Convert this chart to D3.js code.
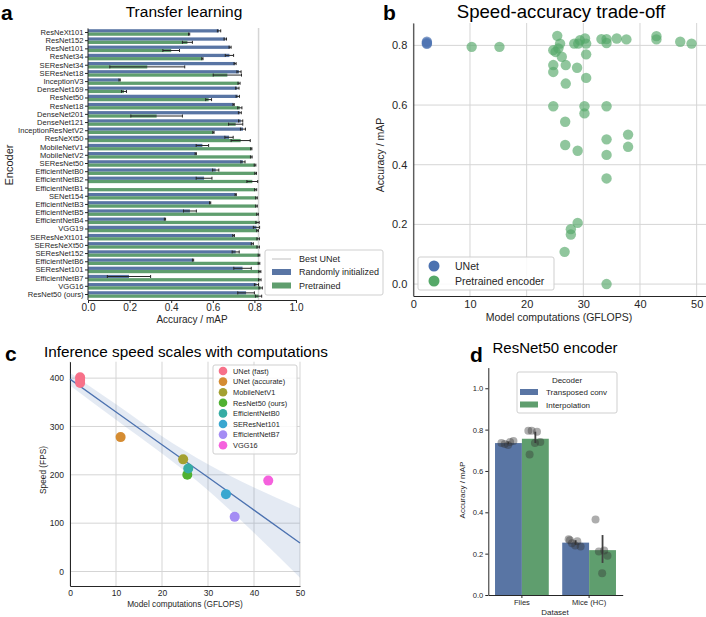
<!DOCTYPE html>
<html>
<head>
<meta charset="utf-8">
<script src="https://cdn.jsdelivr.net/npm/d3@7"></script>
<style>
  body { margin: 0; background: #fff; }
  text { font-family: "Liberation Sans", Arial, sans-serif; fill: #262626; }
</style>
</head>
<body>
<div class="chart"></div>
<script>
// ---------- data ----------
// a: transfer learning
var encoders = ['ResNeXt101', 'ResNet152', 'ResNet101', 'ResNet34', 'SEResNet34', 'SEResNet18',
  'InceptionV3', 'DenseNet169', 'ResNet50', 'ResNet18', 'DenseNet201', 'DenseNet121',
  'InceptionResNetV2', 'ResNeXt50', 'MobileNetV1', 'MobileNetV2', 'SEResNet50', 'EfficientNetB0',
  'EfficientNetB2', 'EfficientNetB1', 'SENet154', 'EfficientNetB3', 'EfficientNetB5', 'EfficientNetB4',
  'VGG19', 'SEResNeXt101', 'SEResNeXt50', 'SEResNet152', 'EfficientNetB6', 'SEResNet101',
  'EfficientNetB7', 'VGG16', 'ResNet50 (ours)'];
var randomAcc = [0.63, 0.66, 0.683, 0.68, 0.707, 0.726, 0.152, 0.718, 0.72, 0.70, 0.73, 0.734,
  0.745, 0.678, 0.55, 0.518, 0.745, 0.614, 0.558, 0.0, 0.71, 0.587, 0.49, 0.37,
  0.81, 0.70, 0.79, 0.71, 0.505, 0.743, 0.197, 0.81, 0.76];
var randomErr = [0.008, 0.006, 0.005, 0.02, 0.005, 0.01, 0.003, 0.008, 0.008, 0.003, 0.007, 0.01,
  0.012, 0.02, 0.03, 0.003, 0.01, 0.015, 0.038, 0.0, 0.003, 0.003, 0.031, 0.003,
  0.015, 0.004, 0.005, 0.017, 0.003, 0.042, 0.104, 0.01, 0.04];
var pretrainedAcc = [0.486, 0.478, 0.40, 0.55, 0.285, 0.67, 0.726, 0.173, 0.58, 0.73, 0.33, 0.71,
  0.603, 0.734, 0.785, 0.785, 0.803, 0.806, 0.79, 0.806, 0.81, 0.81, 0.815, 0.815,
  0.815, 0.818, 0.818, 0.822, 0.822, 0.826, 0.826, 0.83, 0.82];
var pretrainedErr = [0.003, 0.024, 0.04, 0.003, 0.18, 0.068, 0.005, 0.012, 0.014, 0.01, 0.124, 0.034,
  0.003, 0.046, 0.003, 0.004, 0.004, 0.004, 0.026, 0.005, 0.004, 0.004, 0.004, 0.008,
  0.004, 0.006, 0.006, 0.004, 0.004, 0.005, 0.006, 0.008, 0.015];
var bestUNet = 0.82;

// b: speed-accuracy
var unetGflops = [2.4, 2.4, 2.4];
var unetAcc = [0.805, 0.812, 0.808];
var encGflops = [10.3, 15.2, 25.4, 25.9, 24.7, 25.6, 25.1, 26.2, 24.7, 24.7, 26.9, 26.9,
  28.4, 29.4, 30.3, 30.5, 30.5, 30.5, 28.9, 29.1, 33.2, 34.1, 34.1, 35.9, 37.6, 42.9, 42.9,
  47.1, 49.1, 24.7, 30.2, 30.2, 34.1, 26.8, 26.8, 29.0, 34.1, 37.9, 37.9, 34.1, 34.1,
  29.0, 27.8, 27.8, 26.7, 34.1];
var encAcc = [0.795, 0.795, 0.832, 0.806, 0.784, 0.79, 0.778, 0.762, 0.734, 0.711, 0.734, 0.672,
  0.806, 0.817, 0.823, 0.806, 0.77, 0.691, 0.725, 0.806, 0.821, 0.821, 0.808, 0.823, 0.82, 0.831, 0.82,
  0.812, 0.806, 0.596, 0.596, 0.572, 0.596, 0.544, 0.466, 0.447, 0.485, 0.501, 0.46, 0.433, 0.354,
  0.205, 0.184, 0.166, 0.108, 0.0];

// c: inference speed
var speedModels = ['UNet (fast)', 'UNet (accurate)', 'MobileNetV1', 'ResNet50 (ours)',
  'EfficientNetB0', 'SEResNet101', 'EfficientNetB7', 'VGG16'];
var speedColors = ['#f77189', '#d58c32', '#a4a031', '#50b131', '#36ada4', '#39a7d0', '#a48cf4', '#f561dd'];
var speedName = ['UNet (fast)', 'UNet (fast)', 'UNet (fast)', 'UNet (accurate)', 'MobileNetV1',
  'ResNet50 (ours)', 'EfficientNetB0', 'SEResNet101', 'EfficientNetB7', 'VGG16'];
var speedGflops = [2.2, 2.2, 2.2, 11.0, 24.6, 25.5, 25.7, 33.9, 35.8, 43.1];
var speedFps = [402, 396, 390, 278, 232, 200, 213, 160, 113, 188];
// regression fit and confidence band
var fitX = [0, 10, 20, 30, 40, 50];
var fitY = [398, 330, 262, 195, 127, 59];
var ciLow = [385, 314, 244, 168, 80, -13];
var ciHigh = [411, 346, 280, 222, 174, 131];

// d: decoders
var datasets = ['Flies', 'Mice (HC)'];
var decoders = ['Transposed conv', 'Interpolation'];
var runs = {
  'Flies|Transposed conv': [0.735, 0.74, 0.73, 0.745, 0.725],
  'Flies|Interpolation': [0.795, 0.79, 0.795, 0.74, 0.735, 0.68],
  'Mice (HC)|Transposed conv': [0.27, 0.26, 0.25, 0.235, 0.24, 0.265],
  'Mice (HC)|Interpolation': [0.365, 0.215, 0.21, 0.19, 0.105]
};
var runCiLow = [0.73, 0.735, 0.243, 0.155];
var runCiHigh = [0.742, 0.79, 0.265, 0.29];

var blue = '#5975a4', green = '#5f9e6e';
var deepBlue = '#4c72b0', deepGreen = '#55a868';
var ink = '#262626', gridCol = '#d5d5d5';

var svg = d3.select('.chart').append('svg')
  .attr('width', 706).attr('height', 617)
  .style('display', 'block');

function panelLetter(x, y, s) {
  svg.append('text').attr('x', x).attr('y', y).text(s)
    .style('font-size', '21px').style('font-weight', 'bold').style('fill', '#000');
}
function title(x, y, s, size) {
  svg.append('text').attr('x', x).attr('y', y).attr('text-anchor', 'middle').text(s)
    .style('font-size', size + 'px').style('fill', '#000');
}
function styleAxis(g, fs) {
  g.selectAll('path').attr('stroke', ink);
  g.selectAll('line').attr('stroke', ink);
  g.selectAll('text').style('font-size', fs + 'px').style('fill', ink);
}

// ================= panel a =================
var aX = d3.scaleLinear().domain([0, 1]).range([88, 296]);
var aY = d3.scaleBand().domain(encoders).range([28.4, 298.6]);
var aHue = d3.scaleBand().domain(['random', 'pretrained'])
  .range([0.1 * aY.bandwidth(), 0.9 * aY.bandwidth()]);

var pa = svg.append('g');

// best UNet reference line (behind bars)
pa.append('line')
  .attr('x1', aX(bestUNet)).attr('x2', aX(bestUNet))
  .attr('y1', 28).attr('y2', 300)
  .attr('stroke', gridCol).attr('stroke-width', 1.5);

var aRows = encoders.map(function (e, i) {
  return [
    {enc: e, key: 'random', v: randomAcc[i], err: randomErr[i], col: blue},
    {enc: e, key: 'pretrained', v: pretrainedAcc[i], err: pretrainedErr[i], col: green}
  ];
}).flat();

pa.selectAll('rect.bar').data(aRows).enter().append('rect')
  .attr('x', aX(0))
  .attr('y', function (d) { return aY(d.enc) + aHue(d.key); })
  .attr('width', function (d) { return aX(d.v) - aX(0); })
  .attr('height', aHue.bandwidth())
  .attr('fill', function (d) { return d.col; });

var aErr = pa.selectAll('g.err').data(aRows.filter(function (d) { return d.err > 0; }))
  .enter().append('g')
  .attr('transform', function (d) {
    return 'translate(0,' + (aY(d.enc) + aHue(d.key) + aHue.bandwidth() / 2) + ')';
  });
aErr.append('line')
  .attr('x1', function (d) { return aX(d.v - d.err); })
  .attr('x2', function (d) { return aX(d.v + d.err); })
  .attr('stroke', ink).attr('stroke-width', 1);
aErr.append('line')
  .attr('x1', function (d) { return aX(d.v - d.err); })
  .attr('x2', function (d) { return aX(d.v - d.err); })
  .attr('y1', -1.5).attr('y2', 1.5).attr('stroke', ink);
aErr.append('line')
  .attr('x1', function (d) { return aX(d.v + d.err); })
  .attr('x2', function (d) { return aX(d.v + d.err); })
  .attr('y1', -1.5).attr('y2', 1.5).attr('stroke', ink);

var aXAxis = pa.append('g').attr('transform', 'translate(0,300)')
  .call(d3.axisBottom(aX).tickValues([0, 0.2, 0.4, 0.6, 0.8, 1.0]).tickFormat(d3.format('.1f'))
    .tickSize(3).tickSizeOuter(0).tickPadding(0.5));
styleAxis(aXAxis, 10);
var aYAxis = pa.append('g').attr('transform', 'translate(88,0)')
  .call(d3.axisLeft(aY).tickSize(3).tickSizeOuter(0).tickPadding(1.5));
aYAxis.select('.domain').attr('d', 'M0,28.4V300');
styleAxis(aYAxis, 7.6);

pa.append('text').attr('x', 192).attr('y', 323).attr('text-anchor', 'middle')
  .text('Accuracy / mAP').style('font-size', '10px');
pa.append('text').attr('transform', 'translate(13,165) rotate(-90)').attr('text-anchor', 'middle')
  .text('Encoder').style('font-size', '11px');

panelLetter(1, 20, 'a');
title(184, 17, 'Transfer learning', 15.5);

// ================= panel b =================
var bX = d3.scaleLinear().domain([0, 52]).range([413.3, 708]);
var bY = d3.scaleLinear().domain([-0.04, 0.875]).range([296, 23]);
var pb = svg.append('g');

pb.selectAll('line.gx').data(d3.range(0, 51, 10)).enter().append('line')
  .attr('x1', bX).attr('x2', bX).attr('y1', 23).attr('y2', 296)
  .attr('stroke', gridCol);
pb.selectAll('line.gy').data([0, 0.2, 0.4, 0.6, 0.8]).enter().append('line')
  .attr('y1', bY).attr('y2', bY).attr('x1', 413.3).attr('x2', 708)
  .attr('stroke', gridCol);

var bXAxis = pb.append('g').attr('transform', 'translate(0,296)')
  .call(d3.axisBottom(bX).tickValues(d3.range(0, 51, 10)).tickSize(0).tickPadding(4));
styleAxis(bXAxis, 11);
var bYAxis = pb.append('g').attr('transform', 'translate(413.3,0)')
  .call(d3.axisLeft(bY).tickValues([0, 0.2, 0.4, 0.6, 0.8]).tickFormat(d3.format('.1f'))
    .tickSize(0).tickPadding(6));
styleAxis(bYAxis, 11);

pb.selectAll('circle.enc').data(encGflops).enter().append('circle')
  .attr('cx', function (d) { return bX(d); })
  .attr('cy', function (d, i) { return bY(encAcc[i]); })
  .attr('r', 5.2).attr('fill', deepGreen).attr('fill-opacity', 0.65);
pb.selectAll('circle.unet').data(unetGflops).enter().append('circle')
  .attr('cx', function (d) { return bX(d); })
  .attr('cy', function (d, i) { return bY(unetAcc[i]); })
  .attr('r', 5.2).attr('fill', deepBlue).attr('fill-opacity', 0.7);

pb.append('text').attr('x', 559).attr('y', 321).attr('text-anchor', 'middle')
  .text('Model computations (GFLOPS)').style('font-size', '10.5px');
pb.append('text').attr('transform', 'translate(384,155) rotate(-90)').attr('text-anchor', 'middle')
  .text('Accuracy / mAP').style('font-size', '10.5px');

// legend b
var lb = pb.append('g');
lb.append('rect').attr('x', 418).attr('y', 257).attr('width', 136).attr('height', 33)
  .attr('rx', 2).attr('fill', '#fff').attr('fill-opacity', 0.85).attr('stroke', '#cfcfcf');
[['UNet', deepBlue], ['Pretrained encoder', deepGreen]].forEach(function (it, i) {
  lb.append('circle').attr('cx', 434).attr('cy', 266 + i * 15).attr('r', 5.5).attr('fill', it[1]);
  lb.append('text').attr('x', 455).attr('y', 270 + i * 15).text(it[0]).style('font-size', '10.5px');
});

panelLetter(383, 20, 'b');
title(561, 18, 'Speed-accuracy trade-off', 18.6);

// legend a (drawn after b so it sits on top)
var la = svg.append('g');
la.append('rect').attr('x', 265).attr('y', 250).attr('width', 118).attr('height', 45)
  .attr('rx', 2).attr('fill', '#fff').attr('fill-opacity', 0.85).attr('stroke', '#cfcfcf');
la.append('line').attr('x1', 272).attr('x2', 291).attr('y1', 259).attr('y2', 259)
  .attr('stroke', gridCol).attr('stroke-width', 1.5);
la.append('rect').attr('x', 272).attr('y', 269).attr('width', 19).attr('height', 6).attr('fill', blue);
la.append('rect').attr('x', 272).attr('y', 282.5).attr('width', 19).attr('height', 6).attr('fill', green);
[['Best UNet', 262.3], ['Randomly initialized', 275.3], ['Pretrained', 288.5]].forEach(function (it) {
  la.append('text').attr('x', 299).attr('y', it[1]).text(it[0]).style('font-size', '9px');
});

// ================= panel c =================
var cX = d3.scaleLinear().domain([0, 50]).range([70, 300]);
var cY = d3.scaleLinear().domain([-30, 434]).range([586, 361.7]);
var cColor = d3.scaleOrdinal().domain(speedModels).range(speedColors);
var pc = svg.append('g');

pc.selectAll('line.gx').data(d3.range(0, 51, 10)).enter().append('line')
  .attr('x1', cX).attr('x2', cX).attr('y1', 361.7).attr('y2', 586).attr('stroke', gridCol);
pc.selectAll('line.gy').data([0, 100, 200, 300, 400]).enter().append('line')
  .attr('y1', cY).attr('y2', cY).attr('x1', 70).attr('x2', 300).attr('stroke', gridCol);

var cXAxis = pc.append('g').attr('transform', 'translate(0,586)')
  .call(d3.axisBottom(cX).tickValues(d3.range(0, 51, 10)).tickSize(0).tickPadding(4));
styleAxis(cXAxis, 8.5);
var cYAxis = pc.append('g').attr('transform', 'translate(70,0)')
  .call(d3.axisLeft(cY).tickValues([0, 100, 200, 300, 400]).tickSize(0).tickPadding(6));
styleAxis(cYAxis, 8.5);

// regression band and line
pc.append('path')
  .datum(fitX)
  .attr('d', d3.area()
    .x(function (d) { return cX(d); })
    .y0(function (d, i) { return cY(ciLow[i]); })
    .y1(function (d, i) { return cY(ciHigh[i]); })
    .curve(d3.curveMonotoneX))
  .attr('fill', deepBlue).attr('fill-opacity', 0.15);
pc.append('path')
  .datum(fitX)
  .attr('d', d3.line()
    .x(function (d) { return cX(d); })
    .y(function (d, i) { return cY(fitY[i]); }))
  .attr('fill', 'none').attr('stroke', deepBlue).attr('stroke-width', 1.3);

pc.selectAll('circle.pt').data(speedGflops).enter().append('circle')
  .attr('cx', function (d) { return cX(d); })
  .attr('cy', function (d, i) { return cY(speedFps[i]); })
  .attr('r', 5).attr('fill', function (d, i) { return cColor(speedName[i]); });

pc.append('text').attr('x', 185).attr('y', 607).attr('text-anchor', 'middle')
  .text('Model computations (GFLOPS)').style('font-size', '8.3px');
pc.append('text').attr('transform', 'translate(46,470) rotate(-90)').attr('text-anchor', 'middle')
  .text('Speed (FPS)').style('font-size', '8.3px');

// legend c
var lc = pc.append('g');
lc.append('rect').attr('x', 213).attr('y', 365).attr('width', 84).attr('height', 89)
  .attr('rx', 2).attr('fill', '#fff').attr('fill-opacity', 0.85).attr('stroke', '#cfcfcf');
speedModels.forEach(function (m, i) {
  lc.append('circle').attr('cx', 223).attr('cy', 371 + i * 10.6).attr('r', 4.3).attr('fill', cColor(m));
  lc.append('text').attr('x', 233).attr('y', 373.8 + i * 10.6).text(m).style('font-size', '7.4px');
});

panelLetter(5, 361, 'c');
title(186, 357, 'Inference speed scales with computations', 15.3);

// ================= panel d =================
var dX = d3.scaleBand().domain(datasets).range([488.3, 622.7]);
var dHue = d3.scaleBand().domain(decoders).range([0.1 * dX.bandwidth(), 0.9 * dX.bandwidth()]);
var dY = d3.scaleLinear().domain([0, 1.1]).range([595, 367.6]);
var pd = svg.append('g');

var dGroups = [];
datasets.forEach(function (ds) {
  decoders.forEach(function (dec) {
    var vals = runs[ds + '|' + dec];
    dGroups.push({ds: ds, dec: dec, vals: vals, mean: d3.mean(vals)});
  });
});
dGroups.forEach(function (g, i) { g.lo = runCiLow[i]; g.hi = runCiHigh[i]; });

pd.selectAll('rect.bar').data(dGroups).enter().append('rect')
  .attr('x', function (d) { return dX(d.ds) + dHue(d.dec); })
  .attr('y', function (d) { return dY(d.mean); })
  .attr('width', dHue.bandwidth())
  .attr('height', function (d) { return dY(0) - dY(d.mean); })
  .attr('fill', function (d) { return d.dec === decoders[0] ? blue : green; });

pd.selectAll('line.ci').data(dGroups).enter().append('line')
  .attr('x1', function (d) { return dX(d.ds) + dHue(d.dec) + dHue.bandwidth() / 2; })
  .attr('x2', function (d) { return dX(d.ds) + dHue(d.dec) + dHue.bandwidth() / 2; })
  .attr('y1', function (d) { return dY(d.lo); })
  .attr('y2', function (d) { return dY(d.hi); })
  .attr('stroke', '#424242').attr('stroke-width', 1.8);

// individual runs, spread evenly across the bar
dGroups.forEach(function (g) {
  var cx = dX(g.ds) + dHue(g.dec) + dHue.bandwidth() / 2;
  pd.selectAll(null).data(g.vals).enter().append('circle')
    .attr('cx', function (d, i) { return cx + (((i * 0.618) % 1) - 0.5) * 14; })
    .attr('cy', function (d) { return dY(d); })
    .attr('r', 4).attr('fill', '#333').attr('fill-opacity', 0.4);
});

var dXAxis = pd.append('g').attr('transform', 'translate(0,595)')
  .call(d3.axisBottom(dX).tickSize(3).tickSizeOuter(0).tickPadding(2));
styleAxis(dXAxis, 7.6);
var dYAxis = pd.append('g').attr('transform', 'translate(488.3,0)')
  .call(d3.axisLeft(dY).tickValues([0, 0.2, 0.4, 0.6, 0.8, 1.0]).tickFormat(d3.format('.1f'))
    .tickSize(3).tickSizeOuter(0).tickPadding(2));
styleAxis(dYAxis, 7.6);

pd.append('text').attr('x', 555).attr('y', 615).attr('text-anchor', 'middle')
  .text('Dataset').style('font-size', '8px');
pd.append('text').attr('transform', 'translate(465,490) rotate(-90)').attr('text-anchor', 'middle')
  .text('Accuracy / mAP').style('font-size', '8px');

// legend d
var ld = pd.append('g');
ld.append('rect').attr('x', 517).attr('y', 372).attr('width', 100).attr('height', 41)
  .attr('rx', 2).attr('fill', '#fff').attr('fill-opacity', 0.85).attr('stroke', '#cfcfcf');
ld.append('text').attr('x', 567).attr('y', 383).attr('text-anchor', 'middle')
  .text('Decoder').style('font-size', '8px');
decoders.forEach(function (dec, i) {
  ld.append('rect').attr('x', 520).attr('y', 389 + i * 12.5).attr('width', 18).attr('height', 6)
    .attr('fill', i === 0 ? blue : green);
  ld.append('text').attr('x', 546).attr('y', 395 + i * 12.5).text(dec).style('font-size', '8px');
});

panelLetter(470, 362, 'd');
title(555, 353, 'ResNet50 encoder', 15);
</script>
</body>
</html>
